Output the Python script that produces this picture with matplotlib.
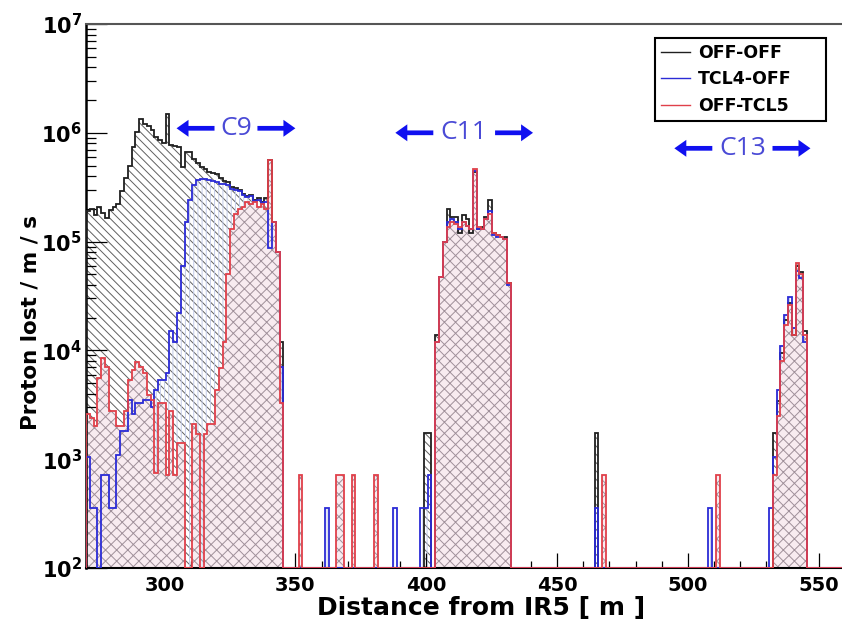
import numpy as np
import matplotlib.pyplot as plt
from matplotlib.lines import Line2D
from matplotlib.ticker import FixedLocator, FixedFormatter, MultipleLocator, LogLocator, NullFormatter

plt.rcParams['font.family'] = 'DejaVu Sans'
plt.rcParams['mathtext.fontset'] = 'dejavusans'
plt.rcParams['hatch.linewidth'] = 0.7

# histogram binning [m]
x_lo, x_hi, n_bins = 270.0, 560.0, 200

# losses in the C9 region, consecutive bins starting at c9_start [protons / m / s]
c9_start = 270.0
offoff_c9 = [1.9e5, 2.0e5, 1.75e5, 2.07e5, 1.85e5, 1.66e5, 1.95e5, 2.1e5, 2.2e5, 2.9e5,
             3.85e5, 5.0e5, 7.4e5, 1.02e6, 1.33e6, 1.2e6, 1.15e6, 1.07e6, 9.2e5, 8.5e5,
             8.1e5, 1.5e6, 7.8e5, 7.6e5, 7.4e5, 4.8e5, 6.7e5, 6.6e5, 5.8e5, 5.3e5,
             4.9e5, 4.6e5, 4.4e5, 4.3e5, 4.2e5, 3.85e5, 3.6e5, 3.5e5, 3.15e5, 3.1e5,
             2.95e5, 2.75e5, 2.6e5, 2.7e5, 2.4e5, 2.5e5, 2.3e5, 2.5e5, 5.6e5, 1.5e5,
             8.0e4, 1.2e4]
tcl4_c9 = [1050, 355, 355, 0, 720, 720, 355, 355, 1100, 1800,
           1800, 3500, 2600, 3300, 3300, 3500, 3500, 3000, 4300, 5300,
           5300, 6200, 1.5e4, 1.2e4, 2.2e4, 6.0e4, 1.5e5, 2.4e5, 3.3e5, 3.7e5,
           3.8e5, 3.8e5, 3.7e5, 3.6e5, 3.5e5, 3.4e5, 3.4e5, 3.3e5, 3.05e5, 3.0e5,
           2.9e5, 2.7e5, 2.55e5, 2.6e5, 2.35e5, 2.4e5, 2.25e5, 2.3e5, 8.7e4, 1.5e5,
           8.0e4, 7.0e3]
tcl5_c9 = [2600, 2400, 2000, 5600, 8500, 7000, 2800, 2800, 2000, 2000,
           2800, 5300, 6600, 7800, 7000, 6200, 3900, 3500, 740, 3300,
           3300, 720, 2800, 720, 1400, 1400, 0, 0, 2100, 1700,
           0, 1700, 2100, 2100, 4300, 6900, 1.2e4, 5.0e4, 1.3e5, 1.8e5,
           2.0e5, 2.1e5, 2.3e5, 2.2e5, 2.3e5, 2.1e5, 2.2e5, 2.0e5, 5.6e5, 1.5e5,
           8.0e4, 3.3e3]

# C11 region
c11_start = 403.4
offoff_c11 = [1.4e4, 4.7e4, 1.0e5, 2.0e5, 1.7e5, 1.7e5, 1.2e5, 1.75e5, 1.6e5, 1.2e5,
              4.4e5, 1.3e5, 1.35e5, 1.7e5, 2.4e5, 1.2e5, 1.15e5, 1.1e5, 1.1e5, 4.2e4]
tcl4_c11 = [1.2e4, 4.7e4, 1.0e5, 1.5e5, 1.6e5, 1.5e5, 1.3e5, 1.5e5, 1.4e5, 1.3e5,
            4.5e5, 1.3e5, 1.3e5, 1.6e5, 1.9e5, 1.15e5, 1.1e5, 1.1e5, 1.05e5, 4.0e4]
tcl5_c11 = [1.2e4, 4.7e4, 1.0e5, 1.35e5, 1.5e5, 1.45e5, 1.35e5, 1.5e5, 1.4e5, 1.3e5,
            4.6e5, 1.35e5, 1.3e5, 1.6e5, 1.8e5, 1.2e5, 1.15e5, 1.1e5, 1.05e5, 4.2e4]

# C13 region
c13_start = 531.0
offoff_c13 = [0, 1740, 3400, 9500, 1.9e4, 2.7e4, 1.4e4, 6.0e4, 5.2e4, 1.5e4]
tcl4_c13 = [355, 1050, 4300, 1.1e4, 2.1e4, 3.1e4, 1.6e4, 5.4e4, 4.6e4, 1.2e4]
tcl5_c13 = [0, 720, 2500, 8000, 1.7e4, 2.6e4, 1.4e4, 6.3e4, 5.0e4, 1.4e4]

# isolated single-bin losses: position [m] and value
offoff_spike_x = [399.8, 401.2, 465.0]
offoff_spike_v = [1740, 1740, 1740]
tcl4_spike_x = [362.1, 388.2, 398.3, 399.8, 401.2, 465.0, 508.5]
tcl4_spike_v = [355, 355, 355, 355, 715, 355, 355]
tcl5_spike_x = [351.9, 366.4, 367.9, 372.2, 381.0, 467.9, 511.4]
tcl5_spike_v = [720, 720, 720, 720, 720, 720, 720]

labels = ['OFF-OFF', 'TCL4-OFF', 'OFF-TCL5']

# collimator markers
coll_names = ['C9', 'C11', 'C13']
coll_x = [327.3, 414.5, 520.8]
coll_y = [1.1e6, 1.0e6, 7.2e5]
coll_gap = [8.2, 11.8, 11.5]
arrow_len = 14.5

edges = np.linspace(x_lo, x_hi, n_bins + 1)
width = edges[1] - edges[0]


def build(blocks, spike_x, spike_v):
    h = np.zeros(n_bins)
    for start, vals in blocks:
        i0 = int(round((start - x_lo) / width))
        h[i0:i0 + len(vals)] = vals
    idx = np.digitize(spike_x, edges) - 1
    h[idx] = spike_v
    return h


h_off = build([(c9_start, offoff_c9), (c11_start, offoff_c11), (c13_start, offoff_c13)],
              offoff_spike_x, offoff_spike_v)
h_tcl4 = build([(c9_start, tcl4_c9), (c11_start, tcl4_c11), (c13_start, tcl4_c13)],
               tcl4_spike_x, tcl4_spike_v)
h_tcl5 = build([(c9_start, tcl5_c9), (c11_start, tcl5_c11), (c13_start, tcl5_c13)],
               tcl5_spike_x, tcl5_spike_v)

fig = plt.figure(figsize=(8.42, 6.24), dpi=100)
ax = fig.add_axes([86 / 842, 56 / 624, 759 / 842, 544 / 624])

ymin = 100
styles = [
    (h_off, '#202020', '\\\\\\\\', '#606060', 'none', 1),
    (h_tcl4, '#2b2bd6', '||||', '#c3cbe8', 'none', 1.5),
    (h_tcl5, '#e0404a', 'xxx', '#a0909a', '#f8ebf0', 2),
]
for h, col, hatch, hcol, face, z in styles:
    hv = np.maximum(h, ymin)
    ax.stairs(hv, edges, baseline=ymin, fill=True, hatch=hatch,
              facecolor=face, edgecolor=hcol, linewidth=0, zorder=z)
for k, (h, col, hatch, hcol, face, z) in enumerate(styles):
    ax.stairs(np.maximum(h, ymin), edges, baseline=ymin, fill=False,
              edgecolor=col, linewidth=1.3, zorder=3 + k)

ax.set_yscale('log')
ax.set_xlim(x_lo, x_hi)
ax.set_ylim(ymin, 1e7)

ax.yaxis.set_major_locator(FixedLocator([1e2, 1e3, 1e4, 1e5, 1e6, 1e7]))
ax.yaxis.set_major_formatter(FixedFormatter([r'$\mathbf{10^{%d}}$' % e for e in range(2, 8)]))
ax.yaxis.set_minor_locator(LogLocator(base=10, subs=np.arange(2, 10)))
ax.yaxis.set_minor_formatter(NullFormatter())
ax.xaxis.set_major_locator(FixedLocator([300, 350, 400, 450, 500, 550]))
ax.xaxis.set_minor_locator(MultipleLocator(10))

ax.tick_params(axis='y', which='major', direction='in', length=15, width=0.9, pad=3, labelsize=15)
ax.tick_params(axis='y', which='minor', direction='in', length=7, width=0.9)
ax.tick_params(axis='x', which='major', direction='in', length=11, width=0.9, pad=6, labelsize=14)
ax.tick_params(axis='x', which='minor', direction='in', length=5, width=0.9)
for lab in ax.get_xticklabels():
    lab.set_fontweight('bold')

ax.spines['left'].set_linewidth(1.8)
ax.spines['bottom'].set_linewidth(1.5)
ax.spines['top'].set_linewidth(1.5)
ax.spines['top'].set_color('#555555')

ax.set_xlabel('Distance from IR5 [ m ]', fontsize=18, fontweight='bold')
ax.xaxis.set_label_coords(0.52, -0.052)
ax.set_ylabel('Proton lost / m / s', fontsize=15.5, fontweight='bold')
ax.yaxis.set_label_coords(-0.06, 0.452)

handles = [Line2D([], [], color=s[1], lw=1.0) for s in styles]
leg = ax.legend(handles, labels, loc='upper left', bbox_to_anchor=(0.7497, 0.8107, 0.2253, 0.1636),
                mode='expand', borderaxespad=0, fancybox=False, framealpha=1,
                prop={'weight': 'bold', 'size': 12.5}, handlelength=1.67, handletextpad=0.46,
                labelspacing=0.49, borderpad=0.34)
leg.get_frame().set_edgecolor('black')
leg.get_frame().set_linewidth(1.5)
leg.set_zorder(5)

for name, xc, yc, gap in zip(coll_names, coll_x, coll_y, coll_gap):
    for sgn in (-1, 1):
        ax.annotate('', xy=(xc + sgn * (gap + arrow_len), yc), xytext=(xc + sgn * gap, yc),
                    arrowprops=dict(arrowstyle='simple,head_length=0.43,head_width=0.61,tail_width=0.17',
                                    color='#1010f0', lw=0, shrinkA=0, shrinkB=0, mutation_scale=20),
                    zorder=8)
    ax.text(xc, yc, name, ha='center', va='center', fontsize=19, color='#4a4ad6',
            family='Open Sans', zorder=7,
            bbox=dict(facecolor='white', edgecolor='none', pad=4.5))

fig.savefig('out.png', dpi=100, facecolor='white')
